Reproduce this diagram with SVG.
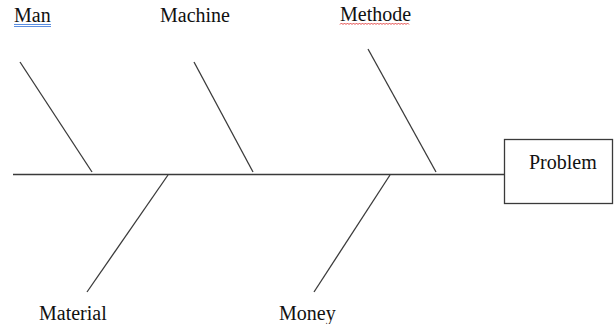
<svg xmlns="http://www.w3.org/2000/svg" width="614" height="324" viewBox="0 0 614 324">
<style>
.ln{stroke:#3a3a3a;stroke-width:1.3;fill:none;stroke-linecap:butt}
text{font-family:'Liberation Serif',serif;font-size:20px;fill:#111}
</style>
<rect width="614" height="324" fill="#fff"/>
<g id="connectors">
<line class="ln" x1="13" y1="174.5" x2="504.5" y2="174.5"/>
<line class="ln" x1="20" y1="62" x2="92" y2="172"/>
<line class="ln" x1="194" y1="62" x2="253" y2="172"/>
<line class="ln" x1="368" y1="49" x2="436" y2="172"/>
<line class="ln" x1="168" y1="175" x2="87" y2="292"/>
<line class="ln" x1="390" y1="175" x2="314" y2="292"/>
</g>
<g id="problem">
<rect class="ln" x="504.5" y="139.5" width="108" height="64"/>
<text x="529" y="169">Problem</text>
</g>
<g id="man">
<text x="14" y="22">Man</text>
<line x1="14" y1="24.5" x2="51" y2="24.5" stroke="#5b8ee0" stroke-width="1"/>
<line x1="14" y1="26.5" x2="51" y2="26.5" stroke="#5b8ee0" stroke-width="1"/>
</g>
<g id="machine">
<text x="160" y="22">Machine</text>
</g>
<g id="methode">
<text x="340" y="21">Methode</text>
<path d="M340 24.5 l1.5 -1.5 l1.5 1.5 l1.5 -1.5 l1.5 1.5 l1.5 -1.5 l1.5 1.5 l1.5 -1.5 l1.5 1.5 l1.5 -1.5 l1.5 1.5 l1.5 -1.5 l1.5 1.5 l1.5 -1.5 l1.5 1.5 l1.5 -1.5 l1.5 1.5 l1.5 -1.5 l1.5 1.5 l1.5 -1.5 l1.5 1.5 l1.5 -1.5 l1.5 1.5 l1.5 -1.5 l1.5 1.5 l1.5 -1.5 l1.5 1.5 l1.5 -1.5 l1.5 1.5 l1.5 -1.5 l1.5 1.5 l1.5 -1.5 l1.5 1.5 l1.5 -1.5 l1.5 1.5 l1.5 -1.5 l1.5 1.5 l1.5 -1.5 l1.5 1.5 l1.5 -1.5 l1.5 1.5 l1.5 -1.5 l1.5 1.5 l1.5 -1.5 l1.5 1.5 l1.5 -1.5 l1.5 1.5" fill="none" stroke="#e03030" stroke-width="0.9"/>
</g>
<g id="material">
<text x="39" y="320">Material</text>
</g>
<g id="money">
<text x="279" y="320">Money</text>
</g>
</svg>
